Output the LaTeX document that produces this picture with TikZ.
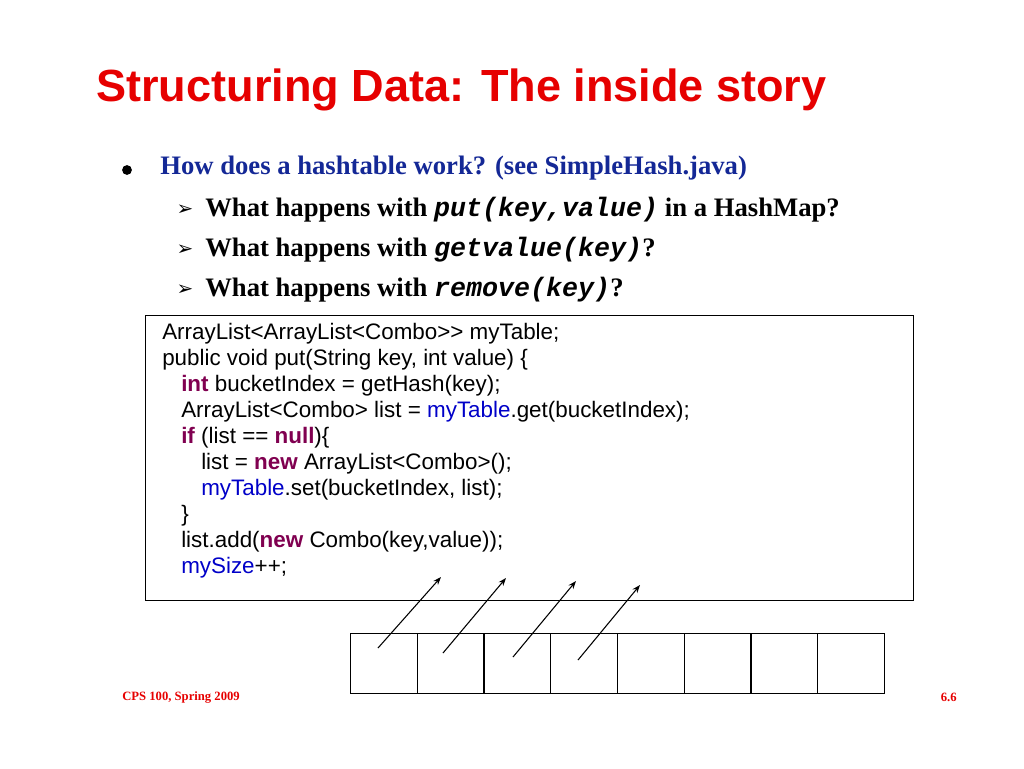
\documentclass[tikz,border=0pt]{standalone}
\usepackage{fontspec}
\usetikzlibrary{arrows.meta}
\setmainfont{Liberation Serif}
\setsansfont{Liberation Sans}
\setmonofont{Liberation Mono}
\newfontfamily\symfont{DejaVu Sans}
\definecolor{ttl}{RGB}{230,0,0}
\definecolor{blu}{RGB}{20,40,150}
\definecolor{kw}{RGB}{128,0,80}
\definecolor{fld}{RGB}{0,0,200}
\begin{document}
\begin{tikzpicture}[x=0.75pt,y=-0.75pt,
  code/.style={anchor=west,inner sep=0pt,font=\sffamily\fontsize{16.8}{18}\selectfont},
  sub/.style={anchor=west,inner sep=0pt,font=\bfseries\fontsize{20}{22}\selectfont},
  cell/.style={draw,minimum width=50pt,minimum height=45pt,inner sep=0pt,line width=0.8pt},
  ptr/.style={-{Stealth[length=6pt]},line width=0.8pt}]
\useasboundingbox (0,0) rectangle (1024,768);
\node[anchor=west,inner sep=0pt,text=ttl,font=\sffamily\bfseries\fontsize{33.8}{38}\selectfont] (title) at (96,90) {Structuring Data: The inside story};
\node[circle,fill,inner sep=2.6pt] (b0) at (127,170) {};
\node[anchor=west,inner sep=0pt,text=blu,font=\bfseries\fontsize{20}{22}\selectfont] (t0) at (160,168) {How does a hashtable work? (see SimpleHash.java)};
\foreach \y/\t [count=\i] in {210/{What happens with \textbf{\itshape\ttfamily put(key,value)} in a HashMap?},
  250/{What happens with \textbf{\itshape\ttfamily getvalue(key)}?},
  290/{What happens with \textbf{\itshape\ttfamily remove(key)}?}}{
  \node[anchor=center,inner sep=0pt,font=\symfont\fontsize{15}{16}\selectfont] (m\i) at (185,\y) {➢};
  \node[sub] (s\i) at (205,\y) {\t};
}
\node[draw,line width=0.8pt,minimum width=576pt,minimum height=213.75pt,anchor=north west,inner sep=0pt] (box) at (145,315) {};
\node[code] (c1) at (162,334) {ArrayList<ArrayList<Combo>{}> myTable;};
\node[code] (c2) at (162,360) {public void put(String key, int value) \{};
\node[code] (c3) at (181,386) {\textcolor{kw}{\textbf{int}} bucketIndex = getHash(key);};
\node[code] (c4) at (181,412) {ArrayList<Combo> list = \textcolor{fld}{myTable}.get(bucketIndex);};
\node[code] (c5) at (181,438) {\textcolor{kw}{\textbf{if}} (list == \textcolor{kw}{\textbf{null}})\{};
\node[code] (c6) at (201,464) {list = \textcolor{kw}{\textbf{new}} ArrayList<Combo>();};
\node[code] (c7) at (201,490) {\textcolor{fld}{myTable}.set(bucketIndex, list);};
\node[code] (c8) at (181,516) {\}};
\node[code] (c9) at (181,542) {list.add(\textcolor{kw}{\textbf{new}} Combo(key,value));};
\node[code] (c10) at (181,568) {\textcolor{fld}{mySize}++;};
\foreach \i in {0,...,7}{
  \node[cell,anchor=north west] (a\i) at (350+\i*66.75,633) {};
}
\coordinate (p0s) at (378,648); \coordinate (p0e) at (441,577);
\coordinate (p1s) at (443,653); \coordinate (p1e) at (506,578);
\coordinate (p2s) at (513,657); \coordinate (p2e) at (576,581);
\coordinate (p3s) at (578,660); \coordinate (p3e) at (640,585);
\foreach \i in {0,...,3}{\draw[ptr] (p\i s) -- (p\i e);}
\node[anchor=west,inner sep=0pt,text=ttl,font=\bfseries\fontsize{9.5}{11}\selectfont] (f1) at (122,697) {CPS 100, Spring 2009};
\node[anchor=east,inner sep=0pt,text=ttl,font=\bfseries\fontsize{9.5}{11}\selectfont] (f2) at (957,697) {6.6};
\end{tikzpicture}
\end{document}
